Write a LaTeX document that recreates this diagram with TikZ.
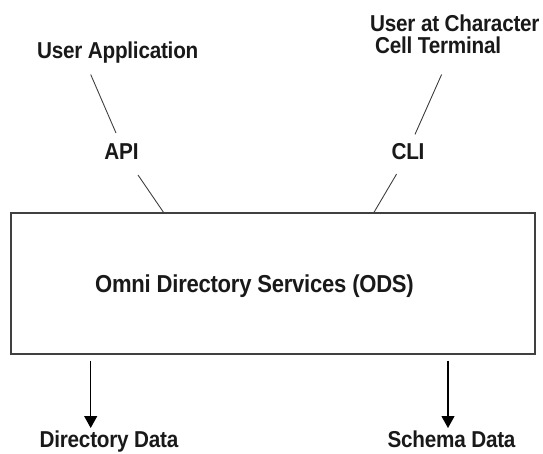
\documentclass[tikz,border=0pt]{standalone}
\usepackage{fontspec}
\setmainfont{Liberation Sans}[FakeStretch=0.9, LetterSpace=-1]
\usetikzlibrary{arrows.meta, calc}

\begin{document}
\begin{tikzpicture}[x=1pt, y=-1pt,
    lbl/.style={inner sep=0pt, font=\fontsize{23}{22}\selectfont\bfseries, text=black!90},
    link/.style={draw=black!75, line width=0.9pt},
    flow/.style={draw=black, line width=1.1pt, -{Triangle[length=12pt, width=13pt]}}]
    \useasboundingbox (0,0) rectangle (543,453);

    \node[lbl, anchor=base] at (117.7,58)   (ua)  {User Application};
    \node[lbl, anchor=south west, align=left] at (370,54) (cct) {User at Character\\\hspace*{5pt}Cell Terminal};
    \node[lbl, anchor=base] at (121.5,159)  (api) {API};
    \node[lbl, anchor=base] at (408,159)    (cli) {CLI};
    \node[draw=black!75, line width=1.4pt, minimum width=524pt, minimum height=141pt, inner sep=0pt] at (273,283.5) (ods) {};
    \node[lbl, anchor=base, font=\fontsize{24.5}{26}\selectfont\bfseries] at (254.5,292) (odsname) {Omni Directory Services (ODS)};
    \node[lbl, anchor=base] at (109,447)    (dd)  {Directory Data};
    \node[lbl, anchor=base] at (451.5,447)  (sd)  {Schema Data};

    \draw[link] ($(ua.base)+(-27,16.5)$) -- ($(api.base)+(-5.5,-26)$);
    \draw[link] ($(api.base)+(16.5,16)$) -- ($(ods.north)+(-109.5,0)$);
    \draw[link] ($(cct.south west)+(71.6,20.5)$) -- ($(cli.base)+(7,-24.6)$);
    \draw[link] ($(cli.base)+(-11.4,15)$) -- ($(ods.north)+(101,0)$);
    \draw[flow] ($(ods.south)+(-182.3,6)$) -- ($(dd.base)+(-18.3,-19)$);
    \draw[flow] ($(ods.south)+(175,6)$) -- ($(sd.base)+(-3.5,-19)$);
\end{tikzpicture}
\end{document}
